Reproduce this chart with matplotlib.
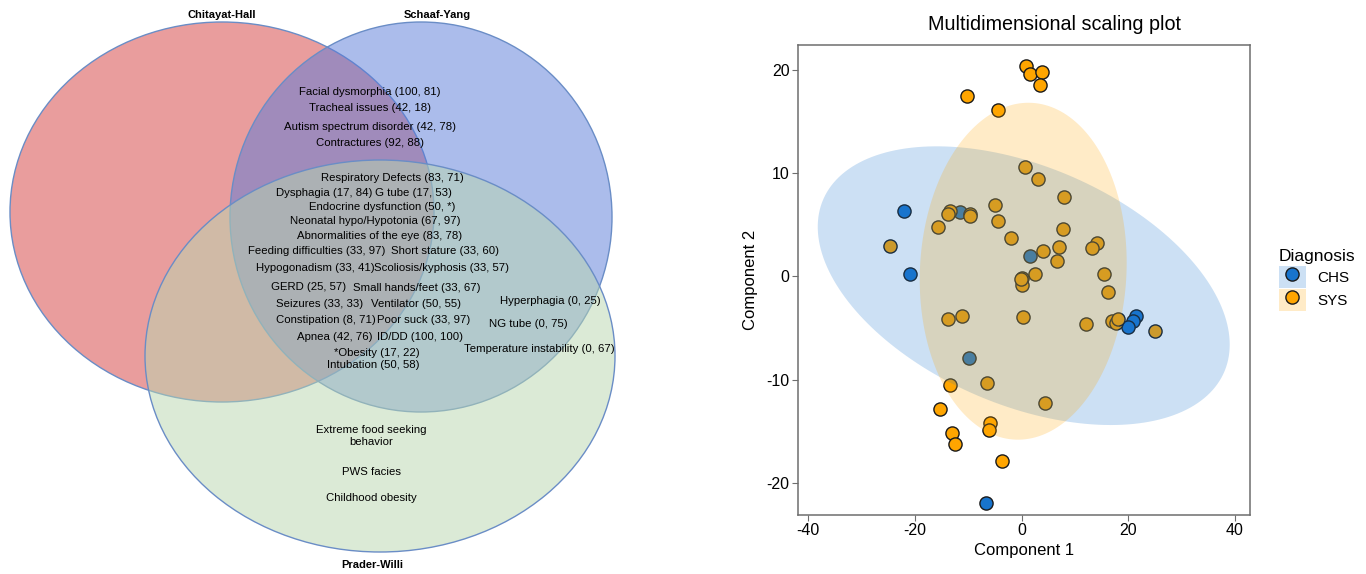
import matplotlib
matplotlib.use("Agg")
import matplotlib.pyplot as plt
import numpy as np
from matplotlib.patches import Ellipse, Patch
from matplotlib.lines import Line2D
from matplotlib.legend_handler import HandlerTuple

plt.rcParams['font.family'] = ['Liberation Sans', 'DejaVu Sans']
plt.rcParams['axes.unicode_minus'] = False

# ---- venn data ----
venn_sets = ["Chitayat-Hall", "Schaaf-Yang", "Prader-Willi"]
venn_colors = ["#d53d3d", "#597bd9", "#b9d7af"]

# red & blue only
ch_sy = ["Facial dysmorphia (100, 81)", "Tracheal issues (42, 18)",
         "Autism spectrum disorder (42, 78)", "Contractures (92, 88)"]
# all three
all3 = ["Respiratory Defects (83, 71)", "Dysphagia (17, 84)", "G tube (17, 53)",
        "Endocrine dysfunction (50, *)", "Neonatal hypo/Hypotonia (67, 97)",
        "Abnormalities of the eye (83, 78)", "Feeding difficulties (33, 97)",
        "Short stature (33, 60)", "Hypogonadism (33, 41)", "Scoliosis/kyphosis (33, 57)",
        "GERD (25, 57)", "Small hands/feet (33, 67)", "Seizures (33, 33)",
        "Ventilator (50, 55)", "Constipation (8, 71)", "Poor suck (33, 97)",
        "Apnea (42, 76)", "ID/DD (100, 100)", "*Obesity (17, 22)", "Intubation (50, 58)"]
# blue & green only
sy_pw = ["Hyperphagia (0, 25)", "NG tube (0, 75)", "Temperature instability (0, 67)"]
# green only
pw_only = ["Extreme food seeking\nbehavior", "PWS facies", "Childhood obesity"]

# ---- MDS data ----
chs_x = [-22.0, -20.9, -11.6, 1.6, -9.9, -6.75, 21.5, 20.8, 19.9]
chs_y = [6.3, 0.2, 6.2, 2.0, -7.9, -21.9, -3.8, -4.3, -4.9]

sys_x = [0.9, 1.5, 3.8, 3.5, -10.2, -4.4,
         0.6, 3.0, 7.9, -5.0, -4.4,
         -13.5, -13.8, -9.6, -9.7, -15.7, -24.6,
         -2.0, 7.7, 7.1, 6.7, 4.0, 2.6, 0.0, 0.0, -0.1,
         14.2, 13.1, 15.4, 16.2,
         -13.8, -11.1, 0.3, 12.0, 16.9, 17.6, 18.1, 25.0,
         -6.4, -13.5, 4.3, -15.2, -5.9, -6.1, -13.1, -12.4, -3.6]
sys_y = [20.4, 19.6, 19.8, 18.5, 17.5, 16.1,
         10.6, 9.4, 7.7, 6.9, 5.4,
         6.3, 6.0, 6.0, 5.8, 4.8, 2.9,
         3.7, 4.6, 2.8, 1.5, 2.5, 0.2, -0.2, -0.8, -0.3,
         3.2, 2.7, 0.2, -1.5,
         -4.1, -3.8, -3.9, -4.6, -4.3, -4.5, -4.1, -5.3,
         -10.3, -10.5, -12.3, -12.8, -14.2, -14.9, -15.2, -16.2, -17.9]

groups = ["CHS", "SYS"]
group_colors = ["#1874CD", "#FFA500"]
# 95% ellipse centre and covariance for each group
ell_center = [(0.4, -0.9), (0.3, 0.5)]
ell_cov = [[[1490, -220], [-220, 182]],
           [[376, 16], [16, 266]]]

fig = plt.figure(figsize=(13.66, 5.74), dpi=100)

# ---- left: venn ----
av = fig.add_axes([0, 0, 620 / 1366, 1])
av.set_xlim(0, 620)
av.set_ylim(574, 0)
av.axis('off')

circ = [((222, 212), 424, 380), ((421, 217), 382, 390), ((380, 356), 470, 392)]
for (c, w, h), col in zip(circ, venn_colors):
    av.add_patch(Ellipse(c, w, h, facecolor=col, alpha=0.5, edgecolor='none'))
    av.add_patch(Ellipse(c, w, h, facecolor='none', edgecolor='#6a8dc6', lw=1))

av.text(222, 15, venn_sets[0], ha='center', va='center', fontsize=8, fontweight='bold')
av.text(437, 15, venn_sets[1], ha='center', va='center', fontsize=8, fontweight='bold')
av.text(372, 565, venn_sets[2], ha='center', va='center', fontsize=8, fontweight='bold')

fs = 8.2
for lab, y in zip(ch_sy, [92, 108, 127, 143]):
    av.text(370, y, lab, ha='center', va='center', fontsize=fs)

all3_pos = [(392, 178), (324, 193), (413, 193), (382, 207), (375, 221), (380, 236),
            (317, 251), (445, 251), (315, 268), (442, 268), (309, 287), (417, 288),
            (320, 304), (416, 304), (326, 320), (424, 320), (335, 337), (420, 337),
            (377, 353), (373, 365)]
for lab, (x, y) in zip(all3, all3_pos):
    av.text(x, y, lab, ha='center', va='center', fontsize=fs)

for lab, (x, y) in zip(sy_pw, [(550, 301), (528, 324), (539, 349)]):
    av.text(x, y, lab, ha='center', va='center', fontsize=fs)

for lab, y in zip(pw_only, [436, 472, 498]):
    av.text(371, y, lab, ha='center', va='center', fontsize=fs, linespacing=1.3)

# ---- right: MDS scatter ----
ax = fig.add_axes([798 / 1366, 59 / 574, 452 / 1366, 470 / 574])
ax.scatter(chs_x, chs_y, s=90, color=group_colors[0], edgecolor='#1a1a1a', lw=1, zorder=2)
ax.scatter(sys_x, sys_y, s=90, color=group_colors[1], edgecolor='#1a1a1a', lw=1, zorder=2)

t = np.linspace(0, 2 * np.pi, 200)
circle = np.vstack([np.cos(t), np.sin(t)])
for c, cov, col in zip(ell_center, ell_cov, group_colors):
    L = np.linalg.cholesky(np.array(cov, dtype=float))
    pts = L @ circle
    ax.fill(c[0] + pts[0], c[1] + pts[1], color=col, alpha=0.22, lw=0, zorder=3)

ax.set_xlim(-41.9, 42.8)
ax.set_ylim(-23.1, 22.4)
ax.set_xticks([-40, -20, 0, 20, 40])
ax.set_yticks([-20, -10, 0, 10, 20])
for s in ax.spines.values():
    s.set_color('#6e6e6e')
    s.set_linewidth(1.1)
ax.tick_params(direction='out', length=4, color='#6e6e6e', labelsize=11.5, pad=2)
ax.set_xlabel("Component 1", fontsize=12, labelpad=3)
ax.set_ylabel("Component 2", fontsize=12, labelpad=6)
fig.text(1054 / 1366, 1 - 25 / 574, "Multidimensional scaling plot", fontsize=14.2,
         ha='center', va='center')

handles = [(Patch(facecolor=col, alpha=0.22, lw=0),
            Line2D([], [], marker='o', ls='', markersize=9.5, markerfacecolor=col,
                   markeredgecolor='#1a1a1a'))
           for col in group_colors]
leg = ax.legend(handles, groups, title="Diagnosis", loc='center left',
                bbox_to_anchor=(1.05, 0.50), frameon=False, fontsize=11,
                title_fontsize=12.5, handler_map={tuple: HandlerTuple(ndivide=1, pad=0)},
                handlelength=1.8, handleheight=1.8, labelspacing=0.1, handletextpad=0.7,
                borderaxespad=0)
leg._legend_box.align = 'left'

fig.savefig("out.png", dpi=100)
